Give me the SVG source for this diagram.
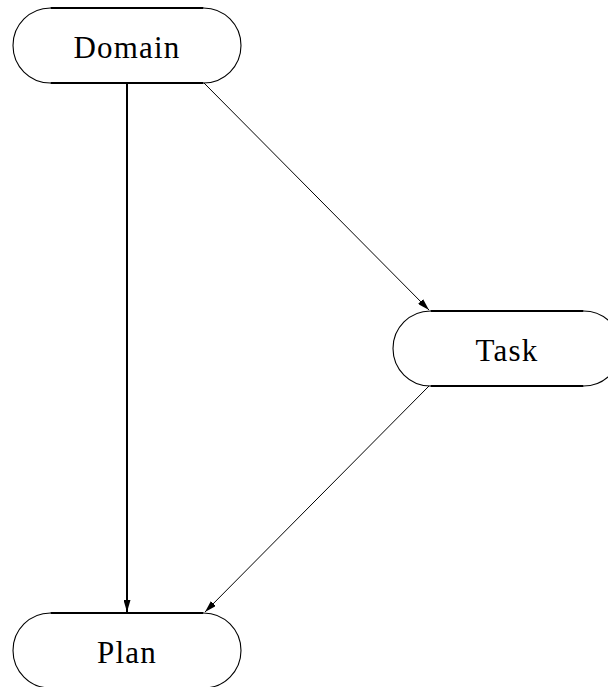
<svg xmlns="http://www.w3.org/2000/svg" width="608" height="687" viewBox="0 0 608 687">
<style>
.arc{fill:none;stroke:#000;stroke-width:1.1}
.flat{fill:none;stroke:#000;stroke-width:2.2}
.lbl{font-family:"Liberation Serif","DejaVu Serif",serif;font-size:31px;letter-spacing:1.2px;text-anchor:middle;fill:#000}
.edge{fill:none;stroke:#000}
</style>
<defs>
<marker id="ah" viewBox="0 0 12 7" refX="12" refY="3.5" markerWidth="12" markerHeight="7" markerUnits="userSpaceOnUse" orient="auto">
<path d="M0,0 L12,3.5 L0,7 z" fill="#000"/>
</marker>
</defs>
<rect width="608" height="687" fill="#fff"/>
<g id="connectors">
<line class="edge" x1="127" y1="83" x2="127" y2="612" stroke-width="2" marker-end="url(#ah)"/>
<line class="edge" x1="204" y1="83" x2="429" y2="310" stroke-width="1" marker-end="url(#ah)"/>
<line class="edge" x1="429" y1="386" x2="205" y2="612" stroke-width="1" marker-end="url(#ah)"/>
</g>
<g id="node-domain">
<path class="arc" d="M50.5,8 A37.5,37.5 0 0 0 50.5,83"/>
<path class="arc" d="M203.5,8 A37.5,37.5 0 0 1 203.5,83"/>
<path class="flat" d="M50.5,8 H203.5 M50.5,83 H203.5"/>
<text class="lbl" x="127" y="58">Domain</text>
</g>
<g id="node-task">
<path class="arc" d="M430.5,311 A37.5,37.5 0 0 0 430.5,386"/>
<path class="arc" d="M583.5,311 A37.5,37.5 0 0 1 583.5,386"/>
<path class="flat" d="M430.5,311 H583.5 M430.5,386 H583.5"/>
<text class="lbl" x="507" y="361">Task</text>
</g>
<g id="node-plan">
<path class="arc" d="M50.5,613 A37.5,37.5 0 0 0 50.5,688"/>
<path class="arc" d="M203.5,613 A37.5,37.5 0 0 1 203.5,688"/>
<path class="flat" d="M50.5,613 H203.5 M50.5,688 H203.5"/>
<text class="lbl" x="127" y="663">Plan</text>
</g>
</svg>
